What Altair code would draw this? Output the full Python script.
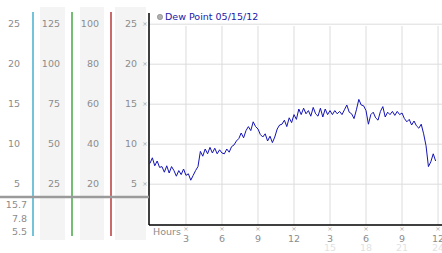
import altair as alt
import pandas as pd

# ---------------- data ----------------
hours = [
    0.0, 0.2, 0.4, 0.6, 0.8, 1.0, 1.2, 1.4, 1.6, 1.8, 2.0, 2.2, 2.4, 2.6, 2.8, 3.0,
    3.2, 3.4, 3.6, 3.8, 4.0, 4.2, 4.4, 4.6, 4.8, 5.0, 5.2, 5.4, 5.6, 5.8, 6.0,
    6.2, 6.4, 6.6, 6.8, 7.0, 7.2, 7.4, 7.6, 7.8, 8.0, 8.2, 8.4, 8.6, 8.8, 9.0,
    9.2, 9.4, 9.6, 9.8, 10.0, 10.2, 10.4, 10.6, 10.8, 11.0, 11.2, 11.4, 11.6, 11.8, 12.0,
    12.2, 12.4, 12.6, 12.8, 13.0, 13.2, 13.4, 13.6, 13.8, 14.0, 14.2, 14.4, 14.6, 14.8, 15.0,
    15.2, 15.4, 15.6, 15.8, 16.0, 16.2, 16.4, 16.6, 16.8, 17.0, 17.2, 17.4, 17.6, 17.8, 18.0,
    18.2, 18.4, 18.6, 18.8, 19.0, 19.2, 19.4, 19.6, 19.8, 20.0, 20.2, 20.4, 20.6, 20.8, 21.0,
    21.2, 21.4, 21.6, 21.8, 22.0, 22.2, 22.4, 22.6, 22.8, 23.0, 23.2, 23.4, 23.6, 23.8,
]
dew_point = [
    7.6, 8.3, 7.3, 7.9, 7.1, 7.2, 6.5, 7.3, 6.4, 7.2, 6.7, 6.0, 6.7, 6.2, 6.9, 6.1,
    6.3, 5.5, 6.1, 6.7, 7.2, 9.1, 8.5, 9.4, 8.8, 9.6, 8.9, 9.5, 8.8, 9.3, 8.9,
    8.8, 9.4, 9.0, 9.7, 9.9, 10.4, 10.7, 11.4, 10.8, 11.7, 12.2, 11.7, 12.8, 12.2, 11.9,
    11.2, 10.9, 11.3, 10.4, 11.0, 10.2, 10.9, 11.9, 12.4, 12.5, 13.0, 12.2, 13.3, 12.7, 13.7,
    13.1, 14.4, 13.7, 14.5, 13.8, 14.2, 13.5, 14.6, 13.8, 13.5, 14.5, 13.4, 14.4, 13.7, 14.2,
    13.7, 14.2, 13.8, 14.1, 13.7, 14.3, 14.9, 14.0, 13.8, 13.2, 14.3, 15.6, 14.9, 14.8, 14.2,
    12.5, 13.7, 14.0, 13.3, 13.0, 14.1, 14.7, 13.4, 14.0, 13.7, 14.1, 13.6, 14.1, 13.7, 13.9,
    13.2, 12.8, 13.1, 12.4, 12.9, 12.3, 12.0, 12.5, 11.3, 9.8, 7.2, 7.8, 8.8, 7.9,
]

tick_values = [25, 20, 15, 10, 5]
col1_labels = ["25", "20", "15", "10", "5"]
col2_labels = ["125", "100", "75", "50", "25"]
col3_labels = ["100", "80", "60", "40", "20"]
col4_labels = ["25", "20", "15", "10", "5"]
stat_labels = ["15.7", "7.8", "5.5"]
hour_ticks = [3, 6, 9, 12, 15, 18, 21, 24]
hour_labels = ["3", "6", "9", "12", "3", "6", "9", "12"]
faded_hours = [15, 18, 21, 24]
faded_labels = ["15", "18", "21", "24"]
legend_text = "Dew Point 05/15/12"

# ---------------- layout ----------------
X0, Y0 = 149, 13          # plot-area origin inside the 442x253 page
W, H = 293, 212
def px(v):
    return v - X0
def py(v):
    return v - Y0

FONT = "DejaVu Sans"
GRAY = "#8c8c8c"
GRID = "#dcdcdc"
FS = 9.5

xs = alt.Scale(domain=[-0.08, 24.33], nice=False, zero=False)
ys = alt.Scale(domain=[-0.1, 26.4], nice=False, zero=False)

line_df = pd.DataFrame({"hour": hours, "dew": dew_point})
lab_df = pd.DataFrame({"v": tick_values, "c1": col1_labels, "c2": col2_labels,
                       "c3": col3_labels, "c4": col4_labels})
faded_df = pd.DataFrame({"hour": faded_hours, "t": faded_labels})
tick_df = pd.DataFrame({"hour": hour_ticks, "t": hour_labels})
one = alt.Data(values=[{"k": 1}])

def bg(x1, x2):
    return alt.Chart(one).mark_rect(color="#f4f4f4").encode(
        x=alt.value(px(x1)), x2=alt.value(px(x2)),
        y=alt.value(py(7)), y2=alt.value(py(240)))

def vline(x, color):
    return alt.Chart(one).mark_rule(color=color, strokeWidth=1.5).encode(
        x=alt.value(px(x)), y=alt.value(py(12)), y2=alt.value(py(236)))

def col_text(field, xr):
    return alt.Chart(lab_df).mark_text(align="right", baseline="middle", font=FONT,
                                       fontSize=FS, color=GRAY).encode(
        x=alt.value(px(xr)), y=alt.Y("v:Q", scale=ys, axis=None), text=f"{field}:N")

def stat_text(label, ypix):
    return alt.Chart(one).mark_text(text=label, align="right", baseline="middle", font=FONT,
                                    fontSize=FS, color=GRAY).encode(
        x=alt.value(px(27)), y=alt.value(py(ypix)))

vgrid = alt.Chart(tick_df).mark_rule(color=GRID, strokeWidth=1).encode(
    x=alt.X("hour:Q", scale=xs, axis=None), y=alt.value(py(26)), y2=alt.value(H))

hgrid = alt.Chart(lab_df).mark_rule(color=GRID, strokeWidth=1).encode(
    y=alt.Y("v:Q", scale=ys, axis=None), x=alt.value(0), x2=alt.value(W))

y_domain = alt.Chart(one).mark_rule(color="#000", strokeWidth=1.5).encode(
    x=alt.value(0), y=alt.value(0), y2=alt.value(H))
x_domain = alt.Chart(one).mark_rule(color="#000", strokeWidth=1.5).encode(
    x=alt.value(0), x2=alt.value(W), y=alt.value(H))

line = alt.Chart(line_df).mark_line(color="#1414b4", strokeWidth=1).encode(
    x=alt.X("hour:Q", scale=xs, axis=None),
    y=alt.Y("dew:Q", scale=ys, axis=None),
)

hline = alt.Chart(one).mark_rule(color="#9a9a9a", strokeWidth=2.5).encode(
    x=alt.value(px(0)), x2=alt.value(px(149)), y=alt.value(py(197)))

y_marks = alt.Chart(lab_df).mark_text(text="×", font=FONT, fontSize=6.5, color="#a8a8a8",
                                       baseline="middle").encode(
    x=alt.value(px(145)), y=alt.Y("v:Q", scale=ys, axis=None))

x_marks = alt.Chart(tick_df).mark_text(text="×", font=FONT, fontSize=6.5, color="#a8a8a8",
                                        baseline="middle").encode(
    x=alt.X("hour:Q", scale=xs, axis=None), y=alt.value(py(229)))

x_labels = alt.Chart(tick_df).mark_text(font=FONT, fontSize=FS, color=GRAY,
                                        baseline="middle").encode(
    x=alt.X("hour:Q", scale=xs, axis=None), y=alt.value(py(238.5)), text="t:N")

faded = alt.Chart(faded_df).mark_text(font=FONT, fontSize=FS, color="#e2e2e2",
                                      baseline="middle").encode(
    x=alt.X("hour:Q", scale=xs, axis=None), y=alt.value(py(247.5)), text="t:N")

hours_lbl = alt.Chart(one).mark_text(text="Hours", align="left", baseline="middle",
                                     font=FONT, fontSize=FS, color=GRAY).encode(
    x=alt.value(px(153)), y=alt.value(py(232)))

leg_dot = alt.Chart(one).mark_point(shape="circle", filled=True, size=28, color="#b0b0b0",
                                    opacity=1).encode(x=alt.value(px(160)), y=alt.value(py(17)))
leg_dot_ring = alt.Chart(one).mark_point(shape="circle", filled=False, size=28, color="#808080",
                                         strokeWidth=0.8).encode(x=alt.value(px(160)), y=alt.value(py(17)))
leg_txt = alt.Chart(one).mark_text(text=legend_text, align="left", baseline="middle",
                                   font=FONT, fontSize=9.5, color="#2020a8").encode(
    x=alt.value(px(165)), y=alt.value(py(17)))

chart = alt.layer(
    bg(40, 65), bg(80, 104), bg(115, 146),
    hgrid, vgrid, line, y_domain, x_domain,
    vline(33, "#45b0cf"), vline(72, "#45a845"), vline(111, "#b83a3a"),
    hline,
    col_text("c1", 20), col_text("c2", 60), col_text("c3", 99), col_text("c4", 137),
    stat_text(stat_labels[0], 205), stat_text(stat_labels[1], 219), stat_text(stat_labels[2], 232),
    y_marks, x_marks, x_labels, faded, hours_lbl, leg_dot, leg_dot_ring, leg_txt,
).properties(
    width=W, height=H,
    background="white",
    autosize=alt.AutoSizeParams(type="none"),
    padding={"left": X0, "top": Y0, "right": 442 - X0 - W, "bottom": 253 - Y0 - H},
).configure_view(strokeWidth=0, stroke="transparent")

chart.save("out.html", embed_options={"renderer": "svg", "actions": False})
